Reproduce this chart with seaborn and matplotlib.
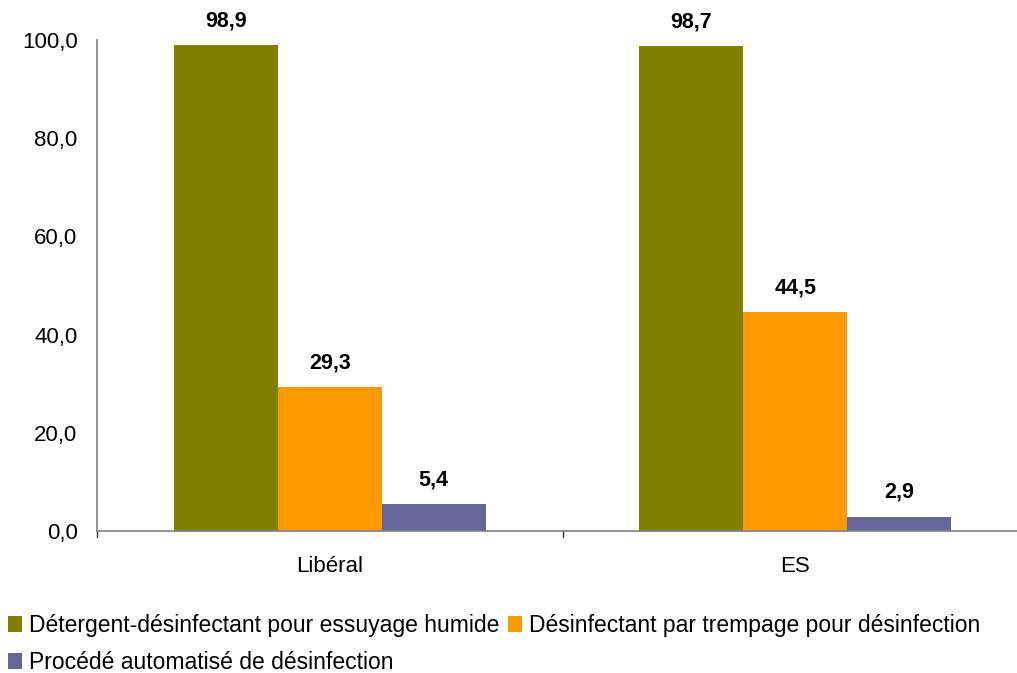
import matplotlib
matplotlib.use("Agg")
import matplotlib.pyplot as plt
import seaborn as sns
import pandas as pd
from matplotlib.patches import Patch

# Data
categories = ["Libéral", "ES"]
series = [
    "Détergent-désinfectant pour essuyage humide",
    "Désinfectant par trempage pour désinfection",
    "Procédé automatisé de désinfection",
]
detergent = [98.9, 98.7]
trempage = [29.3, 44.5]
automatise = [5.4, 2.9]
y_ticks = [0, 20, 40, 60, 80, 100]

colors = ["#808000", "#FF9900", "#666699"]

rows = []
for name, vals in zip(series, [detergent, trempage, automatise]):
    for cat, v in zip(categories, vals):
        rows.append({"cat": cat, "serie": name, "val": v})
df = pd.DataFrame(rows)

sns.set_theme(style="white")
plt.rcParams["font.family"] = ["Liberation Sans", "DejaVu Sans"]
plt.rcParams["text.color"] = "black"
plt.rcParams["xtick.color"] = "black"
plt.rcParams["ytick.color"] = "black"
plt.rcParams["xtick.labelcolor"] = "black"
plt.rcParams["ytick.labelcolor"] = "black"

fig = plt.figure(figsize=(10.17, 6.73), dpi=100)
ax = fig.add_axes([0.0954, 0.211, 0.9155, 0.7296])

sns.barplot(data=df, x="cat", y="val", hue="serie", order=categories,
            hue_order=series, palette=colors, width=0.67, saturation=1,
            legend=False, ax=ax, edgecolor="none", linewidth=0)

ax.set_ylim(0, 100)
ax.set_xlim(-0.5, 1.5)
ax.set_yticks(y_ticks)
ax.set_yticklabels([f"{t:.1f}".replace(".", ",") for t in y_ticks], fontsize=16)
ax.set_xticks([0, 1])
ax.set_xticklabels(categories, fontsize=16)
ax.tick_params(axis="x", length=0, pad=18)
ax.tick_params(axis="y", length=6, width=1, color="#808080", direction="out", pad=8)
# category separator ticks on the x axis
for xb in [-0.5, 0.5, 1.5]:
    ax.plot([xb, xb], [0, -1.3], color="#303030", lw=1, clip_on=False)
ax.set_xlabel("")
ax.set_ylabel("")
for s in ["top", "right"]:
    ax.spines[s].set_visible(False)
for s in ["left", "bottom"]:
    ax.spines[s].set_color("#808080")
    ax.spines[s].set_linewidth(1.2)

# value labels
for cont in ax.containers:
    for bar in cont:
        h = bar.get_height()
        ax.annotate(f"{h:.1f}".replace(".", ","),
                    (bar.get_x() + bar.get_width() / 2, h),
                    xytext=(0, 10), textcoords="offset points",
                    ha="center", va="bottom", fontsize=15.5, fontweight="bold",
                    color="black")

handles = [Patch(facecolor=c, edgecolor="none") for c in colors]
order = [0, 2, 1]
fig.legend([handles[i] for i in order], [series[i] for i in order],
           ncol=2, loc="upper left", bbox_to_anchor=(0.008, 0.088),
           frameon=False, fontsize=16.5, handlelength=0.6, handleheight=0.7,
           handletextpad=0.3, columnspacing=0.4, labelspacing=0.62,
           borderaxespad=0, borderpad=0, labelcolor="black")

fig.savefig("out.png", dpi=100)
